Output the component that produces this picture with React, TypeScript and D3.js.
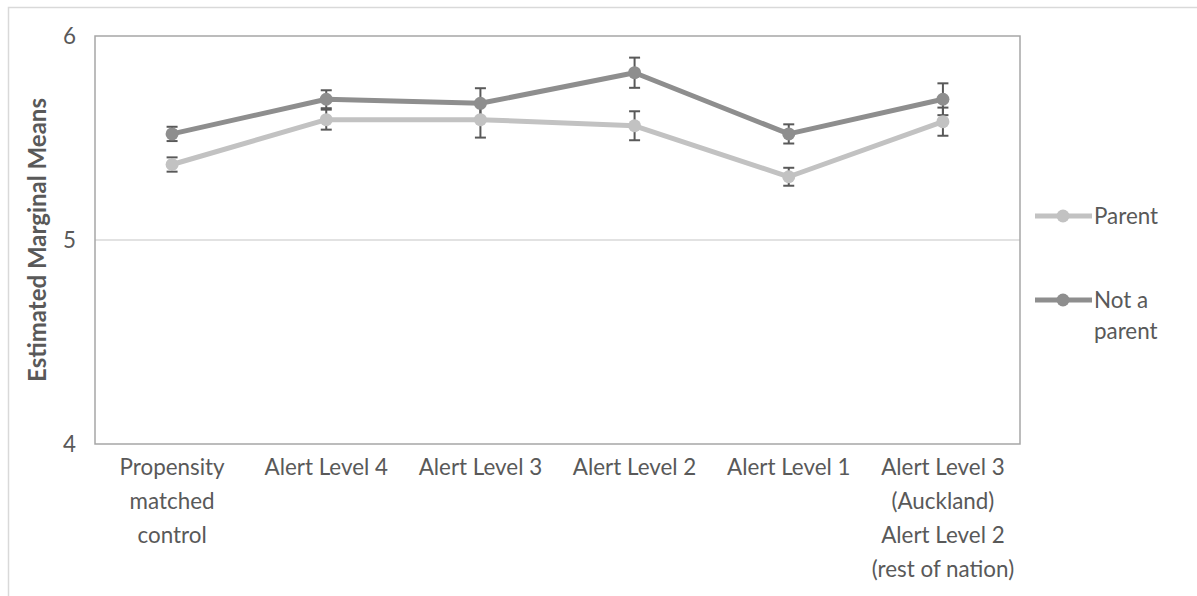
import React from "react";
import * as d3 from "d3";

const categories: string[][] = [
  ["Propensity", "matched", "control"],
  ["Alert Level 4"],
  ["Alert Level 3"],
  ["Alert Level 2"],
  ["Alert Level 1"],
  ["Alert Level 3", "(Auckland)", "Alert Level 2", "(rest of nation)"],
];
const parentValues = [5.37, 5.59, 5.59, 5.56, 5.31, 5.58];
const parentErr = [0.035, 0.049, 0.088, 0.071, 0.044, 0.069];
const notParentValues = [5.52, 5.69, 5.67, 5.82, 5.52, 5.69];
const notParentErr = [0.035, 0.044, 0.074, 0.074, 0.047, 0.078];
const yTicks = [4, 5, 6];
const seriesNames = ["Parent", ["Not a", "parent"]];

const W = 1197;
const H = 596;
const FONT = "Lato, 'Open Sans', sans-serif";
const TEXT = "#595959";

export default function App() {
  const plot = { left: 95, right: 1020, top: 36, bottom: 444 };
  const x = d3
    .scaleBand<number>()
    .domain(d3.range(categories.length))
    .range([plot.left, plot.right]);
  const y = d3.scaleLinear().domain([4, 6]).range([plot.bottom, plot.top]);
  const cx = (i: number) => (x(i) as number) + x.bandwidth() / 2;
  const line = d3
    .line<number>()
    .x((_, i) => cx(i))
    .y((v) => y(v));

  const series = [
    { values: parentValues, err: parentErr, color: "#c2c2c2" },
    { values: notParentValues, err: notParentErr, color: "#8e8e8e" },
  ];

  return (
    <svg
      width={W}
      height={H}
      style={{ position: "fixed", left: 0, top: 0, background: "#fff" }}
      fontFamily={FONT}
    >
      <rect x={8.5} y={7.5} width={W + 20} height={H + 20} fill="#fff" stroke="#d9d9d9" strokeWidth={1.5} />
      {yTicks
        .filter((t) => t !== 4 && t !== 6)
        .map((t) => (
          <line key={t} x1={plot.left} x2={plot.right} y1={y(t)} y2={y(t)} stroke="#d9d9d9" strokeWidth={1.5} />
        ))}
      <rect
        x={plot.left}
        y={plot.top}
        width={plot.right - plot.left}
        height={plot.bottom - plot.top}
        fill="none"
        stroke="#a6a6a6"
        strokeWidth={1.5}
      />
      {yTicks.map((t) => (
        <text key={t} x={76} y={y(t)} dy="0.35em" textAnchor="end" fontSize={22.4} fill={TEXT}>
          {t}
        </text>
      ))}
      <text
        transform={`translate(38,${(plot.top + plot.bottom) / 2}) rotate(-90)`}
        textAnchor="middle"
        dy="0.35em"
        fontSize={24}
        fontWeight="bold"
        fill={TEXT}
      >
        Estimated Marginal Means
      </text>
      {categories.map((lines, i) => (
        <text key={i} x={cx(i)} y={475} textAnchor="middle" fontSize={22.4} fill={TEXT}>
          {lines.map((l, j) => (
            <tspan key={j} x={cx(i)} dy={j === 0 ? 0 : 34}>
              {l}
            </tspan>
          ))}
        </text>
      ))}
      {series.map((s, si) => (
        <g key={si}>
          <path d={line(s.values) as string} fill="none" stroke={s.color} strokeWidth={5} strokeLinejoin="round" />
        </g>
      ))}
      {series.map((s, si) => (
        <g key={"e" + si} stroke="#595959" strokeWidth={2}>
          {s.values.map((v, i) => (
            <g key={i}>
              <line x1={cx(i)} x2={cx(i)} y1={y(v - s.err[i])} y2={y(v + s.err[i])} />
              <line x1={cx(i) - 5.5} x2={cx(i) + 5.5} y1={y(v - s.err[i])} y2={y(v - s.err[i])} />
              <line x1={cx(i) - 5.5} x2={cx(i) + 5.5} y1={y(v + s.err[i])} y2={y(v + s.err[i])} />
            </g>
          ))}
        </g>
      ))}
      {series.map((s, si) => (
        <g key={"m" + si}>
          {s.values.map((v, i) => (
            <circle key={i} cx={cx(i)} cy={y(v)} r={6.5} fill={s.color} />
          ))}
        </g>
      ))}
      {series.map((s, si) => {
        const ly = si === 0 ? 216 : 300;
        const name = seriesNames[si];
        const lines = Array.isArray(name) ? name : [name];
        return (
          <g key={"l" + si}>
            <line x1={1035} x2={1092} y1={ly} y2={ly} stroke={s.color} strokeWidth={5} />
            <circle cx={1063} cy={ly} r={6.5} fill={s.color} />
            <text x={1094} y={ly} fontSize={22.4} fill={TEXT}>
              {lines.map((l, j) => (
                <tspan key={j} x={1094} dy={j === 0 ? "0.35em" : 31}>
                  {l}
                </tspan>
              ))}
            </text>
          </g>
        );
      })}
    </svg>
  );
}
